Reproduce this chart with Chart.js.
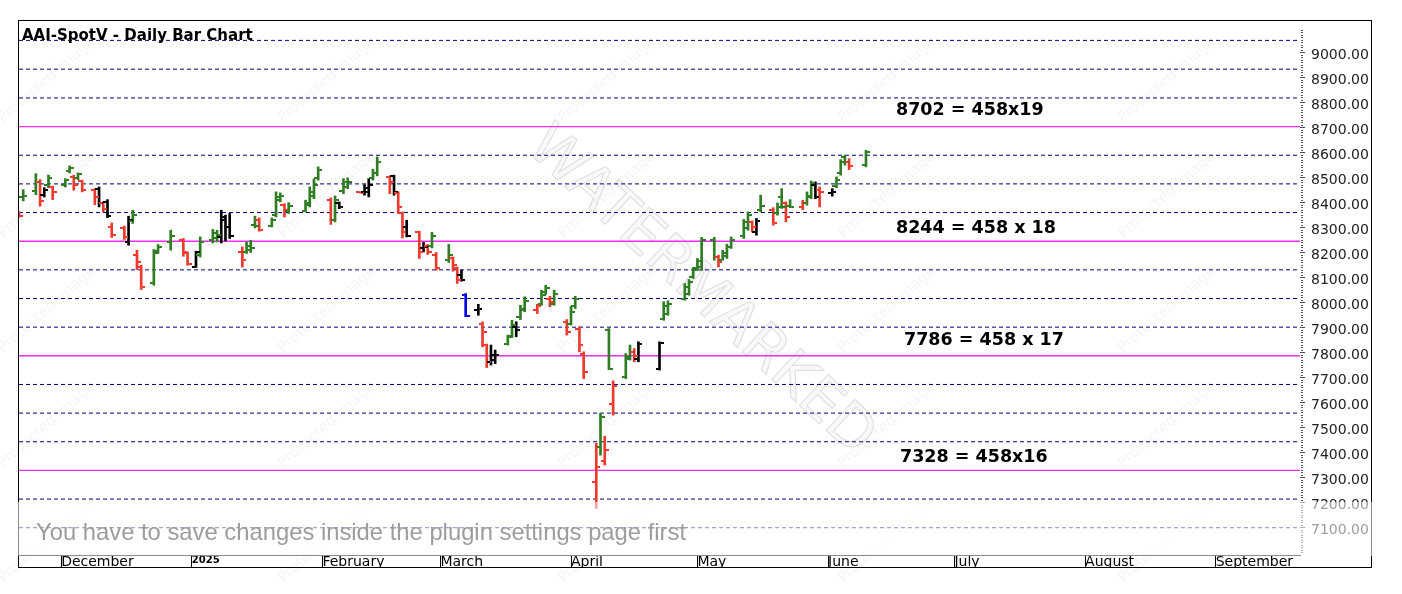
<!DOCTYPE html>
<html>
<head>
<meta charset="utf-8">
<script src="https://cdn.jsdelivr.net/npm/chart.js@4.4.1/dist/chart.umd.min.js"></script>
<style>
  html, body { margin: 0; padding: 0; background: #fff; }
  canvas { display: block; }
</style>
</head>
<body>
<canvas id="myChart" width="1402" height="594"></canvas>
<script>
// trading days shown on the chart
var dates = [
  "2024-11-21","2024-11-22","2024-11-25","2024-11-26","2024-11-27","2024-11-28","2024-11-29",
  "2024-12-02","2024-12-03","2024-12-04","2024-12-05","2024-12-06",
  "2024-12-09","2024-12-10","2024-12-11","2024-12-12","2024-12-13",
  "2024-12-16","2024-12-17","2024-12-18","2024-12-19","2024-12-20",
  "2024-12-23","2024-12-24","2024-12-27","2024-12-30","2024-12-31",
  "2025-01-02","2025-01-03",
  "2025-01-06","2025-01-07","2025-01-08","2025-01-09","2025-01-10",
  "2025-01-13","2025-01-14","2025-01-15","2025-01-16","2025-01-17",
  "2025-01-20","2025-01-21","2025-01-22","2025-01-23","2025-01-24",
  "2025-01-28","2025-01-29","2025-01-30","2025-01-31",
  "2025-02-03","2025-02-04","2025-02-05","2025-02-06","2025-02-07",
  "2025-02-10","2025-02-11","2025-02-12","2025-02-13","2025-02-14",
  "2025-02-17","2025-02-18","2025-02-19","2025-02-20","2025-02-21",
  "2025-02-24","2025-02-25","2025-02-26","2025-02-27","2025-02-28",
  "2025-03-03","2025-03-04","2025-03-05","2025-03-06","2025-03-07",
  "2025-03-10","2025-03-11","2025-03-12","2025-03-13","2025-03-14",
  "2025-03-17","2025-03-18","2025-03-19","2025-03-20","2025-03-21",
  "2025-03-24","2025-03-25","2025-03-26","2025-03-27","2025-03-28",
  "2025-03-31","2025-04-01","2025-04-02","2025-04-03","2025-04-04",
  "2025-04-07","2025-04-08","2025-04-09","2025-04-10","2025-04-11",
  "2025-04-14","2025-04-15","2025-04-16","2025-04-17",
  "2025-04-22","2025-04-23","2025-04-24",
  "2025-04-28","2025-04-29","2025-04-30","2025-05-01","2025-05-02",
  "2025-05-05","2025-05-06","2025-05-07","2025-05-08","2025-05-09",
  "2025-05-12","2025-05-13","2025-05-14","2025-05-15","2025-05-16",
  "2025-05-19","2025-05-20","2025-05-21","2025-05-22","2025-05-23",
  "2025-05-26","2025-05-27","2025-05-28","2025-05-29","2025-05-30",
  "2025-06-02","2025-06-03","2025-06-04","2025-06-05","2025-06-06",
  "2025-06-10"
];

var opens = [
  8358, 8420, 8445, 8480, 8430, 8468, 8462,
  8470, 8525, 8500, 8495, 8485,
  8450, 8452, 8395, 8400, 8300,
  8298, 8240, 8325, 8190, 8140,
  8075, 8205, 8240, 8250, 8195,
  8140, 8190,
  8250, 8255, 8260, 8330, 8300,
  8200, 8200, 8210, 8310, 8330,
  8305, 8350, 8410, 8390, 8365,
  8365, 8390, 8425, 8495,
  8410, 8330, 8395, 8445, 8460,
  8440, 8440, 8440, 8495, 8515,
  8500, 8505, 8435, 8355, 8300,
  8280, 8215, 8225, 8225, 8190,
  8170, 8175, 8135, 8110, 8030,
  7970, 7915, 7830, 7760, 7770,
  7835, 7865, 7900, 7940, 7970,
  7970, 7995, 8040, 8015, 7995,
  7920, 7915, 7985, 7895, 7795,
  7280, 7420, 7365, 7890, 7594,
  7700, 7775, 7800, 7775,
  7735, 7935, 7955,
  8015, 8035, 8100, 8135, 8140,
  8250, 8180, 8170, 8185, 8220,
  8265, 8295, 8320, 8280, 8370,
  8370, 8355, 8420, 8395, 8385,
  8380, 8395, 8425, 8470, 8450,
  8435, 8465, 8515, 8580, 8560,
  8550
];

var highs = [
  8362, 8450, 8514, 8490, 8458, 8508, 8464,
  8494, 8545, 8508, 8517, 8488,
  8454, 8461, 8401, 8410, 8317,
  8304, 8344, 8368, 8208, 8148,
  8211, 8231, 8288, 8255, 8201,
  8204, 8261,
  8291, 8288, 8368, 8348, 8355,
  8221, 8241, 8248, 8344, 8337,
  8337, 8441, 8437, 8394, 8398,
  8408, 8461, 8492, 8541,
  8417, 8425, 8401, 8494, 8497,
  8442, 8470, 8494, 8532, 8581,
  8505, 8508, 8441, 8361, 8328,
  8284, 8239, 8231, 8279, 8199,
  8231, 8181, 8141, 8128, 8035,
  7992, 7922, 7833, 7829, 7809,
  7869, 7928, 7922, 7988, 8022,
  7992, 8048, 8068, 8024, 8048,
  7931, 7984, 8024, 7902, 7802,
  7436, 7556, 7465, 7895, 7686,
  7795, 7829, 7815, 7842,
  7842, 8002, 8006,
  8075, 8091, 8139, 8175, 8259,
  8259, 8188, 8208, 8232, 8261,
  8331, 8361, 8325, 8335, 8428,
  8378, 8397, 8454, 8401, 8410,
  8408, 8441, 8485, 8481, 8461,
  8454, 8501, 8570, 8587, 8574,
  8607
];

var lows = [
  8340, 8405, 8430, 8384, 8421, 8458, 8410,
  8461, 8517, 8448, 8490, 8441,
  8390, 8381, 8361, 8338, 8259,
  8251, 8228, 8315, 8131, 8051,
  8068, 8195, 8208, 8184, 8148,
  8139, 8181,
  8237, 8241, 8237, 8245, 8255,
  8141, 8195, 8199, 8297, 8284,
  8301, 8341, 8401, 8341, 8355,
  8361, 8381, 8414, 8488,
  8311, 8321, 8374, 8434, 8454,
  8436, 8428, 8421, 8488, 8505,
  8434, 8428, 8355, 8257, 8261,
  8175, 8201, 8191, 8217, 8128,
  8159, 8124, 8075, 8084, 7942,
  7948, 7822, 7739, 7749, 7755,
  7829, 7859, 7862, 7931, 7962,
  7955, 7988, 8032, 7982, 7988,
  7869, 7909, 7975, 7802, 7695,
  7176, 7389, 7350, 7731, 7549,
  7695, 7769, 7762, 7762,
  7729, 7928, 7948,
  8008, 8028, 8095, 8128, 8128,
  8168, 8141, 8168, 8175, 8215,
  8255, 8288, 8281, 8268, 8361,
  8308, 8348, 8375, 8321, 8378,
  8370, 8388, 8414, 8414, 8381,
  8424, 8458, 8508, 8548, 8530,
  8541
];

var closes = [
  8345, 8425, 8480, 8405, 8448, 8495, 8440,
  8488, 8535, 8470, 8512, 8448,
  8420, 8395, 8372, 8345, 8270,
  8262, 8330, 8350, 8160, 8060,
  8195, 8222, 8265, 8200, 8152,
  8200, 8240,
  8275, 8270, 8340, 8300, 8265,
  8170, 8225, 8215, 8305, 8290,
  8330, 8420, 8425, 8370, 8385,
  8395, 8440, 8470, 8530,
  8330, 8410, 8380, 8480, 8480,
  8438, 8455, 8470, 8515, 8560,
  8480, 8440, 8380, 8280, 8265,
  8200, 8220, 8200, 8265, 8135,
  8190, 8150, 8090, 8090, 7945,
  7975, 7880, 7760, 7790, 7790,
  7860, 7910, 7890, 7975, 8005,
  7985, 8030, 8055, 8000, 8035,
  7880, 7960, 8015, 7830, 7720,
  7343, 7540, 7410, 7735, 7664,
  7780, 7800, 7785, 7835,
  7838, 7985, 7995,
  8060, 8080, 8130, 8165, 8250,
  8180, 8160, 8195, 8220, 8250,
  8320, 8350, 8300, 8325, 8385,
  8315, 8380, 8380, 8340, 8380,
  8395, 8420, 8475, 8420, 8440,
  8440, 8490, 8560, 8560, 8545,
  8600
];

// bar colour class: g = up, r = down, k = inside, b = outside
var barKinds = [
  "r","g","g","r","k","g","r",
  "g","g","r","g","r",
  "r","k","r","k","r",
  "r","k","g","r","r",
  "g","g","g","r","r",
  "k","g",
  "g","g","k","k","k",
  "r","g","g","g","r",
  "g","g","g","r","g",
  "g","g","g","g",
  "r","g","k","g","g",
  "r","k","k","g","g",
  "r","k","r","r","k",
  "r","k","r","g","r",
  "g","r","r","k","b",
  "k","r","r","k","k",
  "g","g","k","g","g",
  "r","g","g","r","g",
  "r","g","g","r","r",
  "r","g","r","g","r",
  "g","g","r","k",
  "k","g","g",
  "g","g","g","g","g",
  "g","r","g","g","g",
  "g","g","r","k","g",
  "r","g","g","r","g",
  "r","g","g","k","r",
  "k","g","g","g","r",
  "g"
];

// 458-point Gann levels and their quarter divisions
var gannLevels = [8702, 8244, 7786, 7328];
var gannLabels = ["8702 = 458x19", "8244 = 458 x 18", "7786 = 458 x 17", "7328 = 458x16"];
var quarterLevels = [9046.5, 8931.5, 8816.5, 8587.5, 8473, 8358.5, 8129.5, 8015, 7900.5,
                     7671.5, 7557, 7442.5, 7213.5, 7099];

var priceTicks = [7100, 7200, 7300, 7400, 7500, 7600, 7700, 7800, 7900, 8000,
                  8100, 8200, 8300, 8400, 8500, 8600, 8700, 8800, 8900, 9000];
// month starts, counted in days from 1 Dec 2024
var monthDays = [0, 31, 62, 90, 121, 151, 182, 212, 243, 274];
var monthNames = ["December", "2025", "February", "March", "April", "May", "June", "July", "August", "September"];

var X_MIN = -10, X_MAX = 294;

var kindColor = { g: "#2e7d23", r: "#ee3a2c", k: "#000000", b: "#0000ee" };

function dayOf(s) {
  var p = s.split("-");
  return (Date.UTC(+p[0], +p[1] - 1, +p[2]) - Date.UTC(2024, 11, 1)) / 86400000;
}
var days = dates.map(dayOf);

// little horizontal ticks for open (left) and close (right)
function tickImage(color, left) {
  var c = document.createElement("canvas");
  c.width = 8; c.height = 2;
  var g = c.getContext("2d");
  g.fillStyle = color;
  g.fillRect(left ? 0 : 5, 0, 3, 2);
  return c;
}
var openImg = {}, closeImg = {};
Object.keys(kindColor).forEach(function (k) {
  openImg[k] = tickImage(kindColor[k], true);
  closeImg[k] = tickImage(kindColor[k], false);
});

var datasets = [];

datasets.push({
  type: "bar",
  data: days.map(function (d, i) { return { x: d, y: [lows[i], highs[i]] }; }),
  backgroundColor: barKinds.map(function (k) { return kindColor[k]; }),
  borderWidth: 0,
  barThickness: 2,
  order: 2
});
datasets.push({
  type: "scatter",
  data: days.map(function (d, i) { return { x: d, y: opens[i] }; }),
  pointStyle: barKinds.map(function (k) { return openImg[k]; }),
  pointRadius: 3,
  order: 1
});
datasets.push({
  type: "scatter",
  data: days.map(function (d, i) { return { x: d, y: closes[i] }; }),
  pointStyle: barKinds.map(function (k) { return closeImg[k]; }),
  pointRadius: 3,
  order: 1
});
quarterLevels.forEach(function (lv) {
  datasets.push({
    type: "line",
    data: [{ x: X_MIN, y: lv }, { x: X_MAX, y: lv }],
    borderColor: "#00007a",
    borderWidth: 1,
    borderDash: [4, 3],
    pointRadius: 0,
    order: 10
  });
});
gannLevels.forEach(function (lv) {
  datasets.push({
    type: "line",
    data: [{ x: X_MIN, y: lv }, { x: X_MAX, y: lv }],
    borderColor: "#ee2cee",
    borderWidth: 1.4,
    pointRadius: 0,
    order: 9
  });
});

var decor = {
  id: "decor",
  beforeDatasetsDraw: function (chart) {
    var c = chart.ctx;
    c.save();
    // faint "Protected image" tiles
    c.fillStyle = "rgba(0,0,0,0.045)";
    c.font = "15px 'DejaVu Sans'";
    c.textAlign = "center";
    c.textBaseline = "middle";
    for (var tx = 47; tx < 1400; tx += 280) {
      for (var ty = 80; ty < 560; ty += 115) {
        c.save();
        c.translate(tx, ty);
        c.rotate(-41 * Math.PI / 180);
        c.fillText("Protected image", 0, 0);
        c.restore();
      }
    }
    // big diagonal watermark
    c.translate(700, 292);
    c.rotate(43 * Math.PI / 180);
    c.font = "58px 'DejaVu Sans'";
    c.fillStyle = "rgba(0,0,0,0.025)";
    c.strokeStyle = "rgba(0,0,0,0.12)";
    c.lineWidth = 1.2;
    c.fillText("WATERMARKED", 0, 0);
    c.strokeText("WATERMARKED", 0, 0);
    c.restore();
  },
  afterDraw: function (chart) {
    var c = chart.ctx, y = chart.scales.y, area = chart.chartArea;
    c.save();
    // minor ticks on the price axis
    c.fillStyle = "#555";
    for (var v = 7000; v <= 9090; v += 10) {
      c.fillRect(area.right + 1, Math.round(y.getPixelForValue(v)), 2, 1);
    }
    // title
    c.fillStyle = "#000";
    c.font = "bold 15px 'DejaVu Sans'";
    c.textAlign = "left";
    c.textBaseline = "middle";
    c.fillText("AAI-SpotV - Daily Bar Chart", 22, 36);
    // level annotations
    c.font = "bold 17.5px 'DejaVu Sans'";
    var labelX = [896, 896, 904, 900];
    var labelUp = [16, 13, 15, 13];
    gannLevels.forEach(function (lv, i) {
      c.fillText(gannLabels[i], labelX[i], y.getPixelForValue(lv) - labelUp[i]);
    });
    // frame
    c.strokeStyle = "#000";
    c.lineWidth = 1;
    c.strokeRect(18.5, 20.5, 1353, 547);
    // plugin notice overlay
    c.fillStyle = "rgba(255,255,255,0.55)";
    c.fillRect(17, 502, 1356, 54);
    c.fillStyle = "#9d9d9d";
    c.font = "23.8px 'Liberation Sans'";
    c.fillText("You have to save changes inside the plugin settings page first", 36, 533);
    c.restore();
  }
};

new Chart(document.getElementById("myChart"), {
  type: "bar",
  data: { datasets: datasets },
  options: {
    responsive: false,
    animation: false,
    events: [],
    layout: { padding: { left: 19, top: 28, right: 31, bottom: 26 } },
    plugins: { legend: { display: false }, tooltip: { enabled: false } },
    scales: {
      x: {
        type: "linear",
        min: X_MIN,
        max: X_MAX,
        offset: false,
        afterBuildTicks: function (s) {
          s.ticks = monthDays.map(function (d) { return { value: d }; });
        },
        afterFit: function (s) { s.height = 13; },
        ticks: {
          autoSkip: false,
          maxRotation: 0,
          align: "start",
          padding: -13,
          color: "#000",
          font: function (ctx) {
            return ctx.index === 1
              ? { family: "DejaVu Sans", size: 10, weight: "bold" }
              : { family: "DejaVu Sans", size: 14 };
          },
          callback: function (val, i) { return monthNames[i]; }
        },
        grid: { offset: false, drawOnChartArea: false, drawTicks: true, tickLength: 12, color: "#000" },
        border: { display: true, color: "#000" }
      },
      y: {
        type: "linear",
        position: "right",
        min: 6990,
        max: 9096,
        afterBuildTicks: function (s) {
          s.ticks = priceTicks.map(function (v) { return { value: v }; });
        },
        afterFit: function (s) { s.width = 71; },
        ticks: {
          padding: 6,
          labelOffset: 3,
          color: "#222",
          font: { family: "DejaVu Sans", size: 14 },
          callback: function (v) { return Number(v).toFixed(2); }
        },
        grid: { drawOnChartArea: false, drawTicks: true, tickLength: 5, color: "#444" },
        border: { display: false }
      }
    }
  },
  plugins: [decor]
});
</script>
</body>
</html>
